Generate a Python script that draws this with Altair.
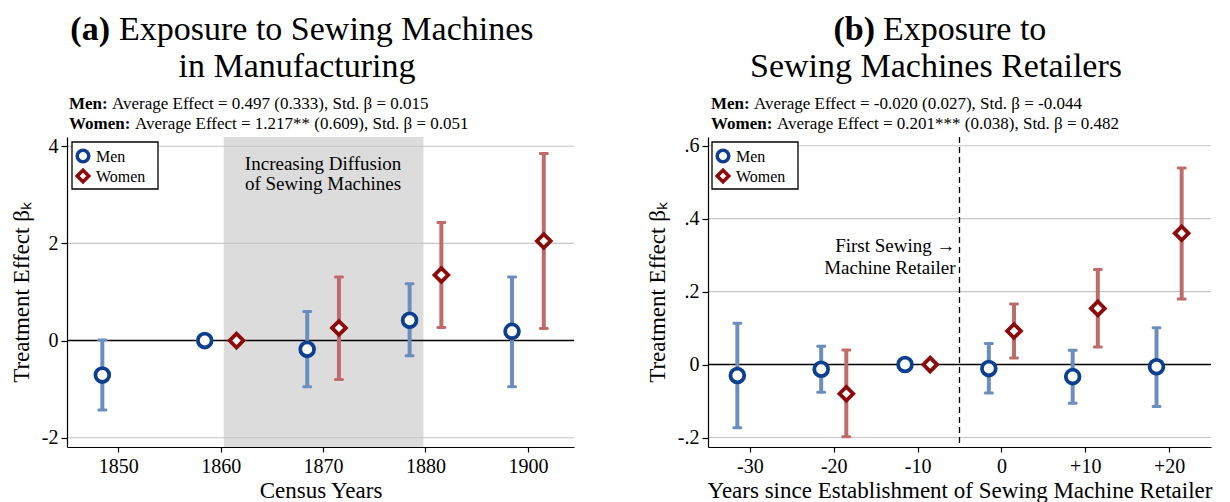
import altair as alt
import pandas as pd

FONT = "Liberation Serif"

# ---------------- Panel (a): census years ----------------
years_a = ["1850", "1860", "1870", "1880", "1900"]
men_a = [-0.71, 0.0, -0.18, 0.42, 0.19]
men_a_lo = [-1.43, None, -0.95, -0.31, -0.95]
men_a_hi = [0.01, None, 0.60, 1.17, 1.31]
women_a = [None, 0.0, 0.26, 1.35, 2.05]
women_a_lo = [None, None, -0.80, 0.27, 0.25]
women_a_hi = [None, None, 1.31, 2.43, 3.85]
yticks_a = [-2, 0, 2, 4]
ylabels_a = ["-2", "0", "2", "4"]
shade_a = [1.03, 2.98]          # census-index units (1860 -> 1880)
ann_a_text = ["Increasing Diffusion", "of Sewing Machines"]
ann_a_x = [2.0, 2.0]
ann_a_y = [3.64, 3.23]
sub_a_men = "Average Effect = 0.497 (0.333), Std. β = 0.015"
sub_a_women = "Average Effect = 1.217** (0.609), Std. β = 0.051"

# ---------------- Panel (b): event time ----------------
years_b = [-30, -20, -10, 0, 10, 20]
xlabels_b = ["-30", "-20", "-10", "0", "+10", "+20"]
men_b = [-0.030, -0.013, 0.0, -0.011, -0.033, -0.006]
men_b_lo = [-0.173, -0.076, None, -0.078, -0.106, -0.115]
men_b_hi = [0.113, 0.050, None, 0.058, 0.039, 0.101]
women_b = [None, -0.080, 0.0, 0.092, 0.154, 0.360]
women_b_lo = [None, -0.198, None, 0.018, 0.048, 0.180]
women_b_hi = [None, 0.040, None, 0.166, 0.261, 0.539]
yticks_b = [-0.2, 0, 0.2, 0.4, 0.6]
ylabels_b = ["-.2", "0", ".2", ".4", ".6"]
retailer_x = [-5]
ann_b_text = ["First Sewing \u2192", "Machine Retailer"]
ann_b_x = [-5, -5]
ann_b_y = [0.325, 0.266]
sub_b_men = "Average Effect = -0.020 (0.027), Std. β = -0.044"
sub_b_women = "Average Effect = 0.201*** (0.038), Std. β = 0.482"

groups = ["Men", "Women"]
bar_colors = ["#6c8ebf", "#c06b6b"]
marker_colors = ["#0d3f8f", "#8c0a0a"]
shapes = ["circle", "diamond"]

H = 310
W_A = 507
W_B = 503


def long_df(xs, m, mlo, mhi, w, wlo, whi, off):
    rows = []
    for i, x in enumerate(xs):
        if m[i] is not None:
            rows.append(dict(pos=x - off, group="Men", est=m[i], lo=mlo[i], hi=mhi[i]))
        if w[i] is not None:
            rows.append(dict(pos=x + off, group="Women", est=w[i], lo=wlo[i], hi=whi[i]))
    return pd.DataFrame(rows)


def arr_expr(vals, labels):
    v = ",".join(repr(x) for x in vals)
    l = ",".join("'" + s + "'" for s in labels)
    return f"[{l}][indexof([{v}], datum.value)]"


def text_layer(txt, x, y, size, weight="normal", align="left", baseline="alphabetic"):
    return alt.Chart(pd.DataFrame({"t": [txt]})).mark_text(
        font=FONT, fontSize=size, fontWeight=weight, align=align,
        baseline=baseline, color="black"
    ).encode(text="t:N", x=alt.value(x), y=alt.value(y))


def legend_layers(x0):
    box = alt.Chart(pd.DataFrame({"k": [0]})).mark_rect(
        fill="white", stroke="black", strokeWidth=1.3).encode(
        x=alt.value(x0), x2=alt.value(x0 + 86), y=alt.value(5), y2=alt.value(52))
    out = [box]
    for i, g in enumerate(groups):
        out.append(alt.Chart(pd.DataFrame({"k": [g]})).mark_point(
            shape=shapes[i], stroke=marker_colors[i], fill="white", filled=False,
            size=135, strokeWidth=3.5, opacity=1).encode(
            x=alt.value(x0 + 11), y=alt.value(19 + 20 * i)))
        out.append(text_layer(g, x0 + 24, 20 + 20 * i, 16, baseline="middle"))
    return out


def panel(df, xdom, ydom, xticks, xlabels, yticks, ylabels, xtitle, width,
          extra_under, extra_over, titles, leg_x):
    xs = alt.Scale(domain=xdom, nice=False, zero=False)
    ys = alt.Scale(domain=ydom, nice=False, zero=False)
    xaxis = alt.Axis(values=xticks, labelExpr=arr_expr(xticks, xlabels), title=xtitle,
                     tickSize=5, labelPadding=4, titlePadding=3, zindex=1, grid=False)
    yaxis = alt.Axis(values=yticks, labelExpr=arr_expr(yticks, ylabels),
                     title="Treatment Effect β\u2096", tickSize=6, labelPadding=3,
                     titlePadding=8, zindex=1, grid=False)

    def X(f):
        return alt.X(f, scale=xs, axis=xaxis)

    def Y(f):
        return alt.Y(f, scale=ys, axis=yaxis)

    grid = alt.Chart(pd.DataFrame({"v": [t for t in yticks if t != 0]})).mark_rule(
        color="#c6c6c6", strokeWidth=1.2).encode(y=Y("v:Q"))
    zero = alt.Chart(pd.DataFrame({"v": [0]})).mark_rule(
        color="black", strokeWidth=1.5).encode(y=Y("v:Q"))

    err = df.dropna(subset=["lo"])
    cscale = alt.Scale(domain=groups, range=bar_colors)
    bars = alt.Chart(err).mark_rule(strokeWidth=4, opacity=1).encode(
        x=X("pos:Q"), y=Y("lo:Q"), y2="hi:Q",
        stroke=alt.Stroke("group:N", scale=cscale, legend=None))
    caps = alt.Chart(err).transform_fold(["lo", "hi"], as_=["end", "val"]).mark_tick(
        orient="horizontal", size=10, thickness=3, cornerRadius=1.5, opacity=1).encode(
        x=X("pos:Q"), y=Y("val:Q"),
        fill=alt.Fill("group:N", scale=cscale, legend=None))

    pts = alt.Chart(df).mark_point(filled=False, fill="white", strokeWidth=3.8,
                                   size=190, opacity=1).encode(
        x=X("pos:Q"), y=Y("est:Q"),
        color=alt.Color("group:N", scale=alt.Scale(domain=groups, range=marker_colors), legend=None),
        shape=alt.Shape("group:N", scale=alt.Scale(domain=groups, range=shapes), legend=None))

    layers = ([l(X, Y) for l in extra_under] + [grid, zero] + [l(X, Y) for l in extra_over]
              + [bars, caps, pts] + legend_layers(leg_x) + titles)
    return alt.layer(*layers).properties(width=width, height=H)


# ----- panel (a) specifics -----
df_a = long_df(list(range(len(years_a))), men_a, men_a_lo, men_a_hi,
               women_a, women_a_lo, women_a_hi, 0.155)
ydom_a = [-2.19, 4.19]


def shade_layer(X, Y):
    d = pd.DataFrame({"x0": [shade_a[0]], "x1": [shade_a[1]],
                      "y0": [ydom_a[0]], "y1": [ydom_a[1]]})
    return alt.Chart(d).mark_rect(color="#dcdcdc").encode(
        x=X("x0:Q"), x2="x1:Q", y=Y("y0:Q"), y2="y1:Q")


def ann_a_layer(X, Y):
    d = pd.DataFrame({"t": ann_a_text, "x": ann_a_x, "y": ann_a_y})
    return alt.Chart(d).mark_text(font=FONT, fontSize=19, align="center",
                                  baseline="middle", color="black").encode(
        x=X("x:Q"), y=Y("y:Q"), text="t:N")


titles_a = [
    text_layer("(a)", 43, -97, 34, "bold", "right"),
    text_layer("Exposure to Sewing Machines", 52, -97, 34),
    text_layer("in Manufacturing", 230, -60, 34, align="center"),
    text_layer("Men:", 2, -28, 17, "bold"),
    text_layer(sub_a_men, 45, -28, 17),
    text_layer("Women:", 2, -8, 17, "bold"),
    text_layer(sub_a_women, 68, -8, 17),
]

chart_a = panel(df_a, [-0.5, 4.45], ydom_a, list(range(len(years_a))), years_a,
                yticks_a, ylabels_a, "Census Years", W_A,
                [shade_layer], [ann_a_layer], titles_a, 5)

# ----- panel (b) specifics -----
df_b = long_df(years_b, men_b, men_b_lo, men_b_hi, women_b, women_b_lo, women_b_hi, 1.5)
ydom_b = [-0.226, 0.624]


def dash_layer(X, Y):
    return alt.Chart(pd.DataFrame({"x": retailer_x})).mark_rule(
        color="black", strokeWidth=1.3, strokeDash=[6, 4]).encode(x=X("x:Q"))


def ann_b_layer(X, Y):
    d = pd.DataFrame({"t": ann_b_text, "x": ann_b_x, "y": ann_b_y})
    return alt.Chart(d).mark_text(font=FONT, fontSize=19, align="right", dx=-4,
                                  baseline="middle", color="black").encode(
        x=X("x:Q"), y=Y("y:Q"), text="t:N")


titles_b = [
    text_layer("(b)", 167, -97, 34, "bold", "right"),
    text_layer("Exposure to", 175, -97, 34),
    text_layer("Sewing Machines Retailers", 228, -60, 34, align="center"),
    text_layer("Men:", 3, -28, 17, "bold"),
    text_layer(sub_b_men, 46, -28, 17),
    text_layer("Women:", 3, -8, 17, "bold"),
    text_layer(sub_b_women, 69, -8, 17),
]

chart_b = panel(df_b, [-35, 25], ydom_b, years_b, xlabels_b, yticks_b, ylabels_b,
                "Years since Establishment of Sewing Machine Retailer", W_B,
                [], [dash_layer, ann_b_layer], titles_b, 4)

chart = alt.hconcat(chart_a, chart_b, spacing=134, bounds="flush").resolve_scale(
    color="independent", shape="independent", stroke="independent", fill="independent"
).properties(
    padding={"left": 2, "top": 5, "right": 5, "bottom": 2}
).configure_view(stroke=None).configure_axis(
    labelFont=FONT, titleFont=FONT, labelFontSize=20, titleFontSize=23,
    titleFontWeight="normal", labelColor="black", titleColor="black",
    domainColor="black", tickColor="black", domainWidth=1.2, tickWidth=1.2
)

chart.save("out.html", embed_options={"renderer": "svg", "actions": False})
